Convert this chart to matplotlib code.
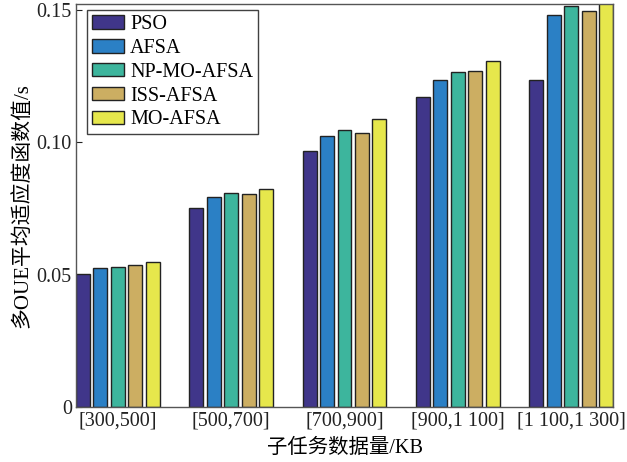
import numpy as np
import matplotlib
matplotlib.use("Agg")
import matplotlib.pyplot as plt

categories = ["[300,500]", "[500,700]", "[700,900]", "[900,1 100]", "[1 100,1 300]"]
series_names = ["PSO", "AFSA", "NP-MO-AFSA", "ISS-AFSA", "MO-AFSA"]
pso = [0.0502, 0.0752, 0.0968, 0.1170, 0.1237]
afsa = [0.0524, 0.0792, 0.1024, 0.1234, 0.1481]
np_mo_afsa = [0.0530, 0.0808, 0.1047, 0.1265, 0.1515]
iss_afsa = [0.0536, 0.0806, 0.1035, 0.1271, 0.1496]
mo_afsa = [0.0549, 0.0824, 0.1088, 0.1308, 0.1540]
yticks = [0, 0.05, 0.10, 0.15]
ytick_labels = ["0", "0.05", "0.10", "0.15"]

colors = ["#40368a", "#2b80c5", "#3db59d", "#ccae62", "#e6e74c"]
series = [pso, afsa, np_mo_afsa, iss_afsa, mo_afsa]

fonts = ["Liberation Serif", "Noto Sans CJK SC"]
plt.rcParams["font.family"] = fonts

fig = plt.figure(figsize=(6.27, 4.62), dpi=100)
ax = fig.add_axes([0.1212, 0.119, 0.8565, 0.8723])

x = np.arange(1, len(categories) + 1)
n = len(series)
group_w = min(0.8, n / (n + 1.5))
pitch = group_w / n
bar_w = pitch * 0.8
for i, (vals, name, c) in enumerate(zip(series, series_names, colors)):
    off = (i - (n - 1) / 2) * pitch
    ax.bar(x + off, vals, width=bar_w, color=c, edgecolor="#222222",
           linewidth=1.0, label=name, zorder=2)

left_edge = 1 - group_w / 2 + pitch / 2 - bar_w / 2
ax.set_xlim(left_edge, len(categories) + 1 - left_edge)
ax.set_ylim(0, 0.1523)
ax.set_xticks(x)
ax.set_xticklabels(categories)
ax.set_yticks(yticks)
ax.set_yticklabels(ytick_labels)
ax.tick_params(axis="both", direction="in", labelsize=14.5, colors="#222222",
               length=4, width=0.8)
ax.tick_params(axis="x", length=0, pad=3)
ax.tick_params(axis="y", pad=3)
for s in ax.spines.values():
    s.set_color("#555555")
    s.set_linewidth(1.0)

ax.set_xlabel("子任务数据量/KB", fontsize=14.7, labelpad=6)
ax.set_ylabel("多OUE平均适应度函数值/s", fontsize=15, labelpad=3)

leg = ax.legend(loc="upper left", bbox_to_anchor=(0.009, 1.0), fontsize=14.5,
                frameon=True, fancybox=False, edgecolor="#111111",
                handlelength=1.6, handleheight=0.65, borderpad=0.25,
                labelspacing=0.24, handletextpad=0.3, borderaxespad=0.3)
leg.get_frame().set_linewidth(1.0)

fig.savefig("out.png", dpi=100)
